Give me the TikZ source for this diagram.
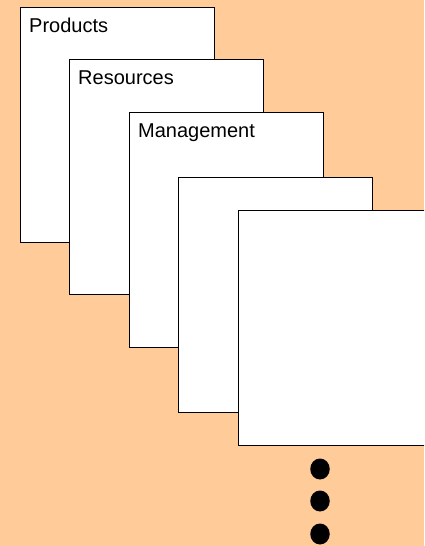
\documentclass[tikz,border=0pt]{standalone}
\usepackage{fontspec}
\setmainfont{Liberation Sans}
\usetikzlibrary{calc,shapes.geometric}
\definecolor{peach}{HTML}{FFCC99}
\begin{document}
\begin{tikzpicture}[x=1pt,y=-1pt,
  panel/.style={draw=black, line width=1.3pt, fill=white, rectangle,
    minimum width=194pt, minimum height=235pt, inner sep=0pt, anchor=north west},
  tag/.style={anchor=base west, inner sep=0pt, font=\fontsize{20}{24}\selectfont},
  dot/.style={fill=black, ellipse, inner sep=0pt, minimum width=19.5pt, minimum height=21pt}]
  \useasboundingbox (0,0) rectangle (424,546);
  \fill[peach] (0,0) rectangle (424,546);
  \clip (0,0) rectangle (424,546);
  % stacked sheets, back to front
  \node[panel] (p1) at (20,7) {};
  \node[tag] (t1) at ($(p1.north west)+(9,25)$) {Products};
  \node[panel] (p2) at (69,59) {};
  \node[tag] (t2) at ($(p2.north west)+(9,25)$) {Resources};
  \node[panel] (p3) at (129,112) {};
  \node[tag] (t3) at ($(p3.north west)+(9,25)$) {Management};
  \node[panel] (p4) at (178,177) {};
  \node[panel] (p5) at (238,210) {};
  % continuation marks
  \node[dot] (d1) at (320,469) {};
  \node[dot] (d2) at (320,501) {};
  \node[dot] (d3) at (320,534) {};
\end{tikzpicture}
\end{document}
